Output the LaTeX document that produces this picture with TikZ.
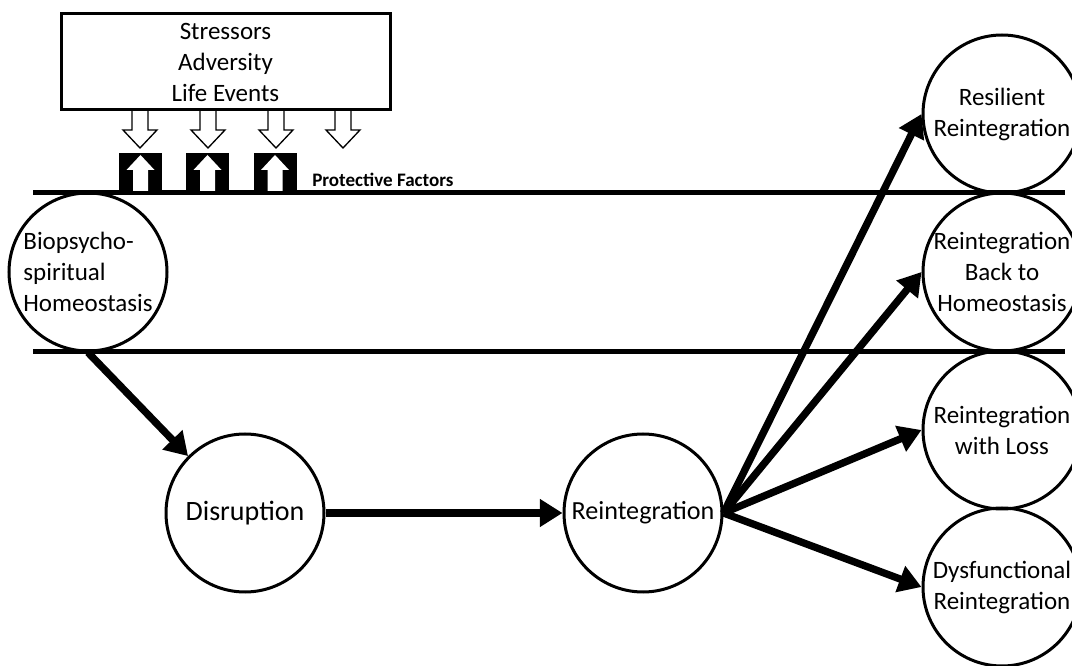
\documentclass[tikz,border=0pt]{standalone}
\usepackage{fontspec}
\setmainfont{Carlito}
\usetikzlibrary{arrows.meta}

\tikzset{
  stage/.style={draw, circle, line width=2.25pt, minimum size=118.5pt, inner sep=-14pt, align=center, font=\fontsize{18.75}{23.25}\selectfont},
  flow/.style={line width=5.5pt, -{Triangle[length=17pt,width=20pt]}},
  band/.style={line width=3.75pt},
  hollow/.style={line width=1pt},
}

\begin{document}
\begin{tikzpicture}[x=0.75pt,y=0.75pt,yscale=-1,xscale=1]
\useasboundingbox (0,0) rectangle (1072,666);

%Straight Lines: bands
\draw[band] (33,193) -- (1065,193);
\draw[band] (33,352) -- (1065,352);

%Shape: Rectangle (stressors)
\node[draw, line width=2.25pt, minimum width=246.75pt, minimum height=72pt, inner sep=0pt, align=center, font=\fontsize{18.75}{23.25}\selectfont] (stress) at (225.5,62) {Stressors\\Adversity\\Life Events};

%Shape: hollow down arrows
\foreach \x in {140,208,276,343}
  \draw[hollow] (\x-8,111) -- (\x-8,130) -- (\x-17,130) -- (\x,148) -- (\x+17,130) -- (\x+8,130) -- (\x+8,111);

%Shape: protective blocks
\foreach \x in {140.5,207.5,275}{
  \fill (\x-21.5,153) rectangle (\x+21.5,193);
  \fill[white] (\x,155) -- (\x+14,170) -- (\x+7.5,170) -- (\x+7.5,191) -- (\x-7.5,191) -- (\x-7.5,170) -- (\x-14,170) -- cycle;
}

% Text Node
\node[anchor=base west, inner sep=0pt, font=\bfseries\fontsize{14.3}{17}\selectfont] (prot) at (312,187) {Protective Factors};

%Shape: Circles
\node[stage, align=left] (bio) at (88,272) {Biopsycho-\\spiritual\\Homeostasis};
\node[stage, font=\fontsize{21}{25}\selectfont] (disr) at (245,513) {Disruption};
\node[stage, font=\fontsize{19.6}{24}\selectfont] (reint) at (643,513) {Reintegration};
\node[stage] (resil) at (1002,114) {Resilient\\Reintegration};
\node[stage] (back) at (1002,272) {Reintegration\\Back to\\Homeostasis};
\node[stage] (loss) at (1002,430) {Reintegration\\with Loss};
\node[stage] (dysf) at (1002,587) {Dysfunctional\\Reintegration};

%Arrows
\draw[flow] (bio.south) -- (disr.north west);
\draw[flow] (disr.east) -- (reint.west);
\foreach \t in {resil,back,loss,dysf}
  \draw[flow] (reint.east) -- (\t.west);

\end{tikzpicture}
\end{document}
